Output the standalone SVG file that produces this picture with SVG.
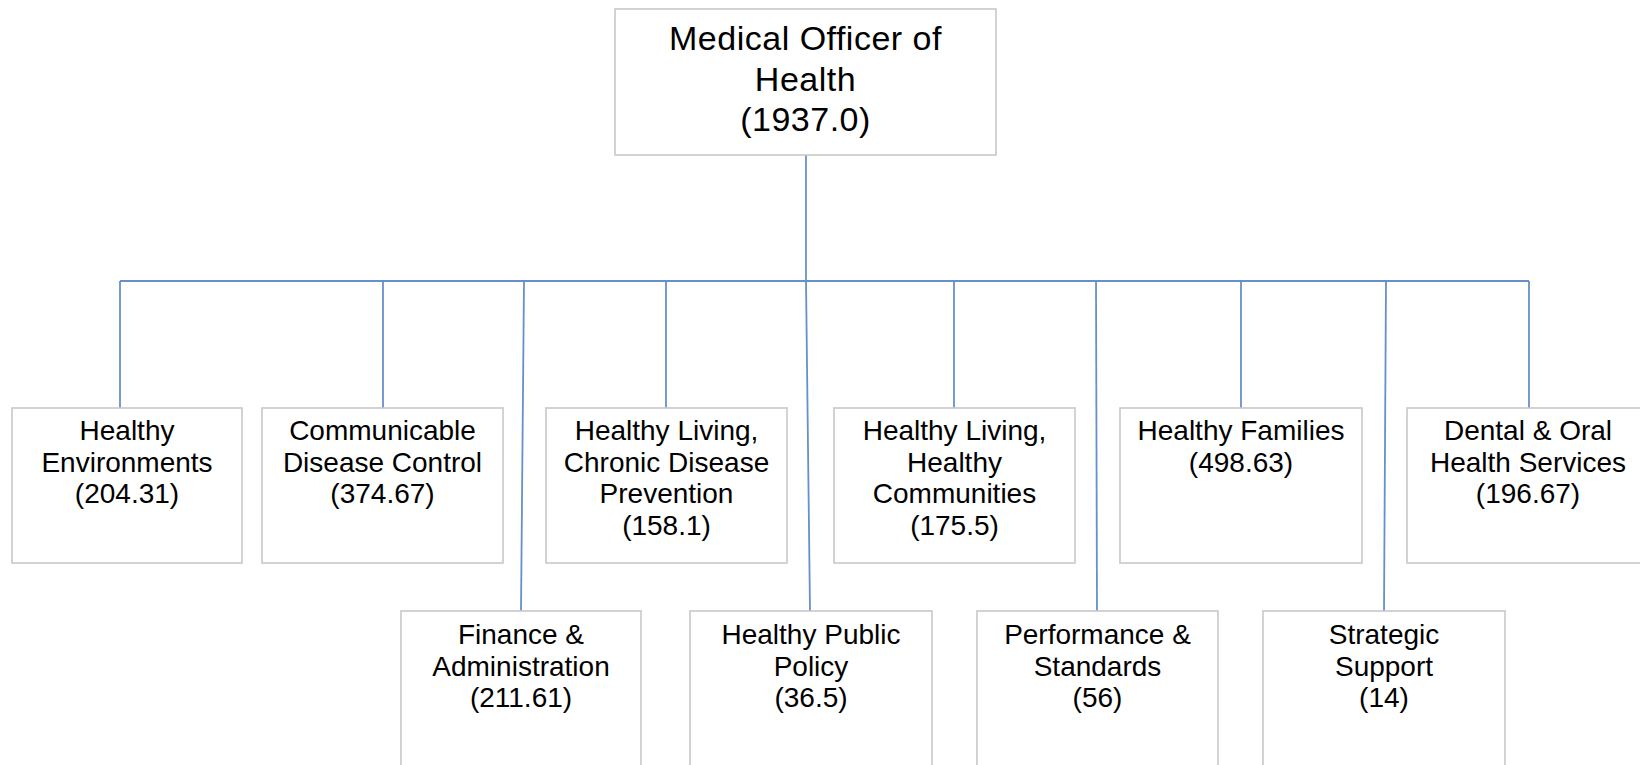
<svg xmlns="http://www.w3.org/2000/svg" width="1640" height="765" viewBox="0 0 1640 765">
  <style>
    .box { fill: #ffffff; stroke: #c8c8c8; stroke-width: 1.6; }
    .link { fill: none; stroke: #6690cb; stroke-width: 1.8; }
    .lbl { font-family: "Liberation Sans", Arial, sans-serif; font-size: 28px; fill: #000000; text-anchor: middle; }
    .head { font-size: 34px; letter-spacing: 0.5px; }
  </style>
  <rect width="1640" height="765" fill="#ffffff"/>

  <!-- reporting lines -->
  <g id="connectors">
    <path class="link" d="M806 155 V281"/>
    <path class="link" d="M120 281 H1529"/>
    <path class="link" d="M120 281 V408"/>
    <path class="link" d="M383 281 V408"/>
    <path class="link" d="M666 281 V408"/>
    <path class="link" d="M954 281 V408"/>
    <path class="link" d="M1241 281 V408"/>
    <path class="link" d="M1529 281 V408"/>
    <path class="link" d="M524 281 L521 611"/>
    <path class="link" d="M806 281 L810 611"/>
    <path class="link" d="M1096 281 L1097 611"/>
    <path class="link" d="M1386 281 L1384 611"/>
  </g>

  <g id="moh">
    <rect class="box" x="615" y="9" width="381" height="146"/>
    <text class="lbl head" x="805.5" y="50">Medical Officer of</text>
    <text class="lbl head" x="805.5" y="90.5">Health</text>
    <text class="lbl head" x="805.5" y="131">(1937.0)</text>
  </g>

  <!-- first row -->
  <g id="healthy-environments">
    <rect class="box" x="12" y="408" width="230" height="155"/>
    <text class="lbl" x="127" y="440">Healthy</text>
    <text class="lbl" x="127" y="471.5">Environments</text>
    <text class="lbl" x="127" y="503">(204.31)</text>
  </g>
  <g id="communicable-disease">
    <rect class="box" x="262" y="408" width="241" height="155"/>
    <text class="lbl" x="382.5" y="440">Communicable</text>
    <text class="lbl" x="382.5" y="471.5">Disease Control</text>
    <text class="lbl" x="382.5" y="503">(374.67)</text>
  </g>
  <g id="chronic-disease">
    <rect class="box" x="546" y="408" width="241" height="155"/>
    <text class="lbl" x="666.5" y="440">Healthy Living,</text>
    <text class="lbl" x="666.5" y="471.5">Chronic Disease</text>
    <text class="lbl" x="666.5" y="503">Prevention</text>
    <text class="lbl" x="666.5" y="534.5">(158.1)</text>
  </g>
  <g id="healthy-communities">
    <rect class="box" x="834" y="408" width="241" height="155"/>
    <text class="lbl" x="954.5" y="440">Healthy Living,</text>
    <text class="lbl" x="954.5" y="471.5">Healthy</text>
    <text class="lbl" x="954.5" y="503">Communities</text>
    <text class="lbl" x="954.5" y="534.5">(175.5)</text>
  </g>
  <g id="healthy-families">
    <rect class="box" x="1120" y="408" width="242" height="155"/>
    <text class="lbl" x="1241" y="440">Healthy Families</text>
    <text class="lbl" x="1241" y="471.5">(498.63)</text>
  </g>
  <g id="dental-oral">
    <rect class="box" x="1407" y="408" width="242" height="155"/>
    <text class="lbl" x="1528" y="440">Dental &amp; Oral</text>
    <text class="lbl" x="1528" y="471.5">Health Services</text>
    <text class="lbl" x="1528" y="503">(196.67)</text>
  </g>

  <!-- second row -->
  <g id="finance-admin">
    <rect class="box" x="401" y="611" width="240" height="170"/>
    <text class="lbl" x="521" y="644">Finance &amp;</text>
    <text class="lbl" x="521" y="675.5">Administration</text>
    <text class="lbl" x="521" y="707">(211.61)</text>
  </g>
  <g id="public-policy">
    <rect class="box" x="690" y="611" width="242" height="170"/>
    <text class="lbl" x="811" y="644">Healthy Public</text>
    <text class="lbl" x="811" y="675.5">Policy</text>
    <text class="lbl" x="811" y="707">(36.5)</text>
  </g>
  <g id="performance-standards">
    <rect class="box" x="977" y="611" width="241" height="170"/>
    <text class="lbl" x="1097.5" y="644">Performance &amp;</text>
    <text class="lbl" x="1097.5" y="675.5">Standards</text>
    <text class="lbl" x="1097.5" y="707">(56)</text>
  </g>
  <g id="strategic-support">
    <rect class="box" x="1263" y="611" width="242" height="170"/>
    <text class="lbl" x="1384" y="644">Strategic</text>
    <text class="lbl" x="1384" y="675.5">Support</text>
    <text class="lbl" x="1384" y="707">(14)</text>
  </g>
</svg>
